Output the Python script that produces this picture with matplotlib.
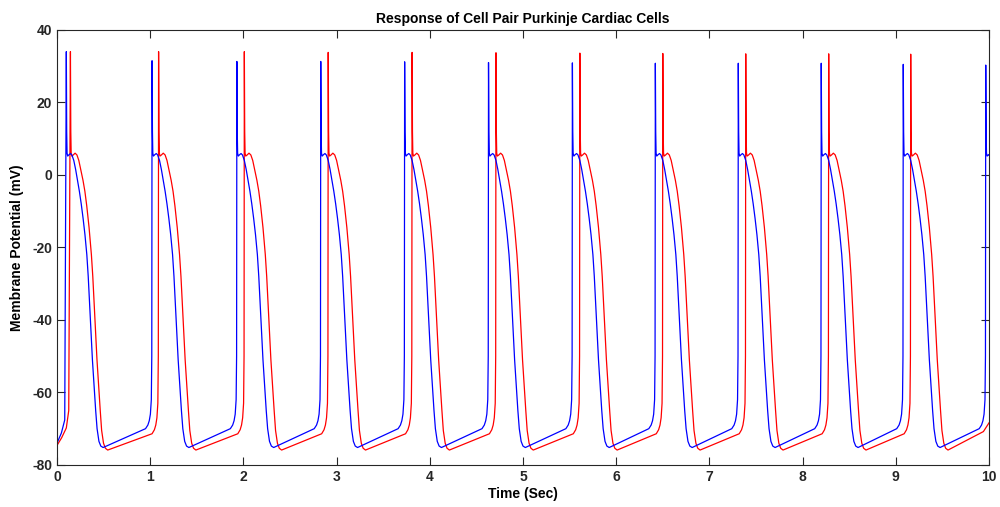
import matplotlib
matplotlib.use("Agg")

import numpy as np
from matplotlib import pyplot as plt

# beat (upstroke) times, seconds
BLUE_SPIKES = [0.10, 1.02, 1.93, 2.83, 3.73, 4.63, 5.53, 6.42, 7.31, 8.20, 9.08, 9.965]
RED_SPIKES  = [0.144, 1.09, 2.01, 2.91, 3.81, 4.71, 5.61, 6.50, 7.39, 8.28, 9.16]

# spike peak values, mV
BLUE_PEAKS = [34.0, 31.5, 31.3, 31.3, 31.2, 31.0, 30.9, 30.8, 30.8, 30.8, 30.5, 30.3]
RED_PEAKS  = [34.0, 34.0, 34.0, 33.8, 33.8, 33.7, 33.6, 33.5, 33.4, 33.4, 33.3]

# shape of one beat around its upstroke: offset (s) and potential (mV)
BLUE_PRE_DT = [-0.07, -0.045, -0.03, -0.018, -0.008, -0.003]
BLUE_PRE_V  = [-70.0, -69.0, -67.8, -66.0, -62.0, -50.0]
BLUE_POST_DT = [0.004, 0.008, 0.015, 0.03, 0.045, 0.06, 0.08, 0.10, 0.12, 0.14, 0.16,
                0.18, 0.20, 0.22, 0.235, 0.25, 0.265, 0.28, 0.30, 0.315, 0.33, 0.35, 0.37, 0.395]
BLUE_POST_V  = [12.0, 6.0, 5.2, 5.6, 5.9, 5.5, 4.0, 1.5, -1.5, -4.5, -8.0,
                -12.0, -16.5, -22.0, -28.0, -35.5, -43.5, -51.0, -59.0, -65.0, -70.0, -73.5, -74.8, -75.2]

RED_PRE_DT = [-0.07, -0.045, -0.03, -0.018, -0.008, -0.003]
RED_PRE_V  = [-71.4, -70.3, -69.0, -67.0, -63.0, -50.0]
RED_POST_DT = [0.004, 0.008, 0.015, 0.03, 0.05, 0.07, 0.09, 0.11, 0.135, 0.155, 0.175,
               0.20, 0.225, 0.24, 0.255, 0.27, 0.285, 0.305, 0.32, 0.335, 0.355, 0.375, 0.40]
RED_POST_V  = [12.0, 6.0, 5.2, 5.5, 6.0, 5.5, 4.0, 1.5, -1.5, -4.5, -8.5,
               -14.5, -22.0, -28.0, -35.5, -43.5, -51.0, -59.0, -65.0, -70.5, -74.0, -75.4, -75.9]

# start of the record (before the first upstroke) and the tail at t = 10 s
BLUE_START_T = [0.0, 0.047, 0.083]
BLUE_START_V = [-74.0, -71.2, -67.6]
RED_START_T = [0.0, 0.003, 0.05, 0.10, 0.126]
RED_START_V = [0.0, -74.5, -72.5, -69.8, -65.0]
BLUE_END_T = [10.0]
BLUE_END_V = [5.5]
RED_END_T = [9.94, 10.0]
RED_END_V = [-70.8, -68.4]


def build_trace(start_t, start_v, spikes, peaks, pre_dt, pre_v, post_dt, post_v, end_t, end_v):
    t = list(start_t)
    v = list(start_v)
    for k, (s, p) in enumerate(zip(spikes, peaks)):
        if k > 0:
            t += [s + d for d in pre_dt]
            v += list(pre_v)
        t.append(s)
        v.append(p)
        t += [s + d for d in post_dt]
        v += list(post_v)
    t += list(end_t)
    v += list(end_v)
    t = np.array(t)
    v = np.array(v)
    keep = t <= 10.0
    return t[keep], v[keep]


blue_t, blue_v = build_trace(BLUE_START_T, BLUE_START_V, BLUE_SPIKES, BLUE_PEAKS,
                             BLUE_PRE_DT, BLUE_PRE_V, BLUE_POST_DT, BLUE_POST_V,
                             BLUE_END_T, BLUE_END_V)
red_t, red_v = build_trace(RED_START_T, RED_START_V, RED_SPIKES, RED_PEAKS,
                           RED_PRE_DT, RED_PRE_V, RED_POST_DT, RED_POST_V,
                           RED_END_T, RED_END_V)

plt.rcParams["font.family"] = ["Liberation Sans", "DejaVu Sans"]
plt.rcParams["axes.unicode_minus"] = False

fig = plt.figure(figsize=(10, 5.07), dpi=100)
ax = fig.add_axes([0.057, 0.083, 0.932, 0.858])

ax.plot(red_t, red_v, color="#ff0000", linewidth=0.9)
ax.plot(blue_t, blue_v, color="#0000ff", linewidth=0.9)

ax.set_xlim(0, 10)
ax.set_ylim(-80, 40)
ax.set_xticks(range(0, 11))
ax.set_yticks(range(-80, 41, 20))

ax.tick_params(direction="in", length=6, width=0.8, colors="#262626",
               top=True, right=True, labelsize=10)
for lab in ax.get_xticklabels() + ax.get_yticklabels():
    lab.set_fontweight("bold")
for sp in ax.spines.values():
    sp.set_color("#262626")
    sp.set_linewidth(0.8)

ax.set_title("Response of Cell Pair Purkinje Cardiac Cells", fontsize=10,
             fontweight="bold", pad=5)
ax.set_xlabel("Time (Sec)", fontsize=10, fontweight="bold", labelpad=2)
ax.set_ylabel("Membrane Potential (mV)", fontsize=10, fontweight="bold", labelpad=6)

fig.savefig("out.png", dpi=100)
plt.close(fig)
